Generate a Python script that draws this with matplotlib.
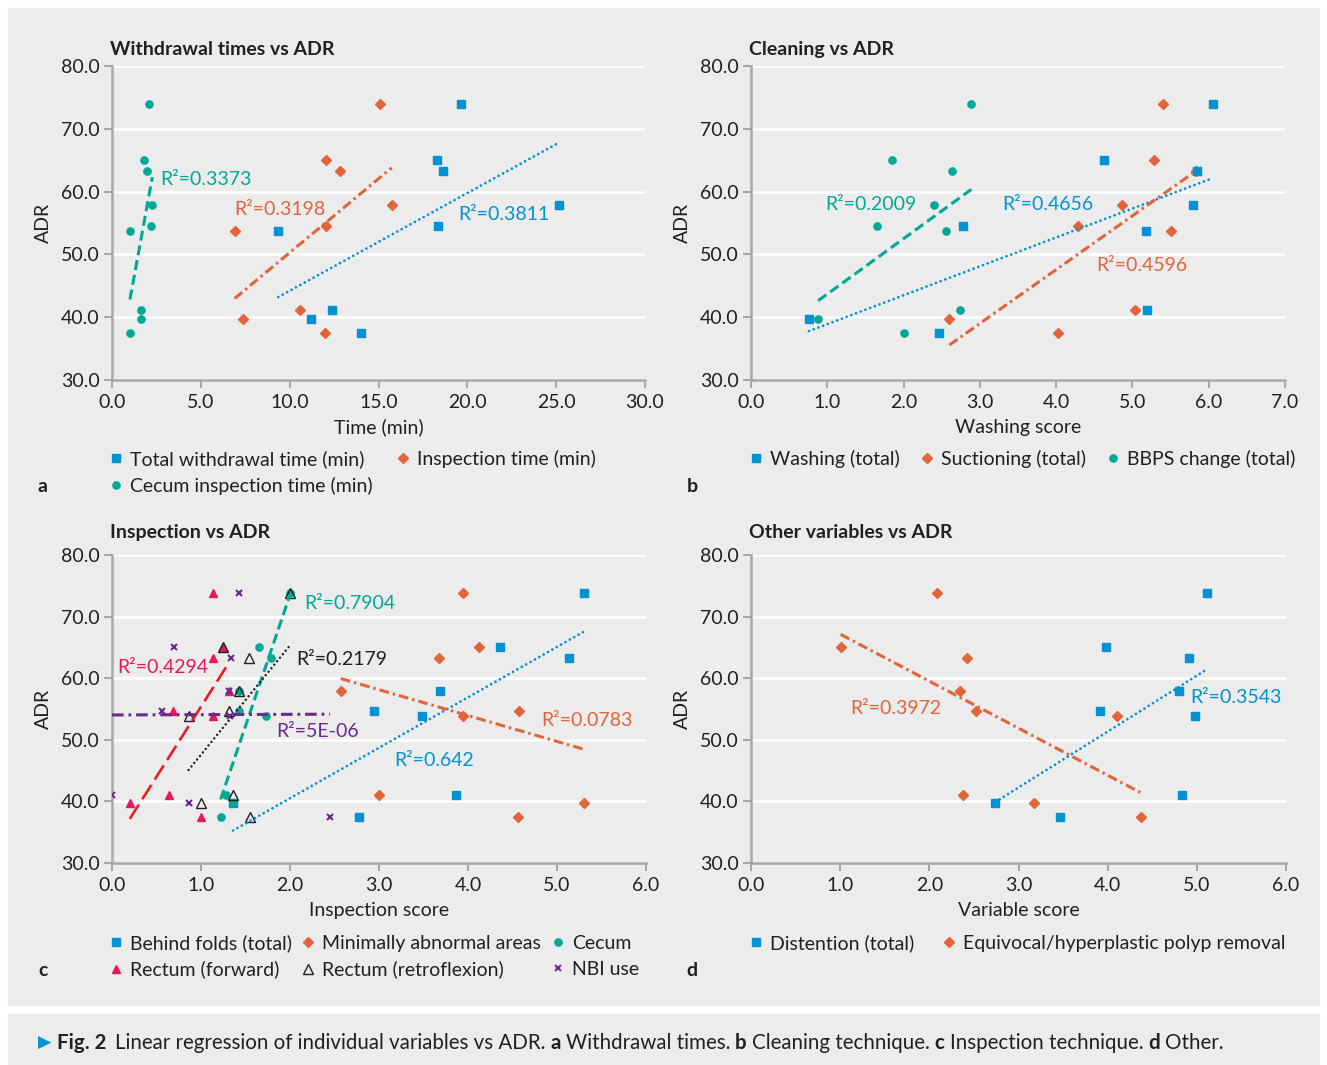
import numpy as np
import matplotlib.pyplot as plt
from matplotlib.patches import Rectangle

plt.rcParams['font.family'] = ['Lato', 'DejaVu Sans']

# ADR of the nine endoscopists (same y values in every panel)
adr = [73.9, 65.0, 63.3, 57.9, 54.6, 53.8, 41.1, 39.7, 37.5]

# a - withdrawal times
total_withdrawal = [19.66, 18.3, 18.65, 25.17, 18.37, 9.36, 12.4, 11.2, 14.03]
inspection_time = [15.1, 12.03, 12.83, 15.74, 12.03, 6.9, 10.58, 7.39, 11.99]
cecum_time = [2.1, 1.82, 1.95, 2.27, 2.19, 1.01, 1.65, 1.65, 1.01]

# b - cleaning
washing = [6.05, 4.63, 5.85, 5.8, 2.78, 5.18, 5.19, 0.76, 2.47]
suctioning = [5.4, 5.28, 5.83, 4.86, 4.29, 5.51, 5.04, 2.6, 4.03]
bbps_change = [2.89, 1.85, 2.63, 2.4, 1.65, 2.56, 2.74, 0.88, 2.01]

# c - inspection
behind_folds = [5.3, 4.36, 5.14, 3.69, 2.94, 3.48, 3.87, 1.36, 2.78]
min_abnormal = [3.94, 4.12, 3.67, 2.57, 4.57, 3.94, 3.0, 5.3, 4.56]
cecum_insp = [2.0, 1.65, 1.79, 1.43, 1.43, 1.73, 1.28, 1.36, 1.22]
rectum_fwd = [1.14, 1.25, 1.13, 1.31, 0.69, 1.13, 0.64, 0.2, 1.0]
rectum_retro = [2.0, 1.25, 1.54, 1.43, 1.31, 0.86, 1.36, 1.0, 1.55]
nbi_use = [1.43, 0.7, 1.34, 1.31, 0.56, 1.33, 0.0, 0.86, 2.45]

# d - other
distention = [5.11, 3.98, 4.91, 4.8, 3.91, 4.98, 4.83, 2.74, 3.47]
equivocal = [2.09, 1.005, 2.42, 2.34, 2.52, 4.1, 2.38, 3.17, 4.37]

BLUE = '#0092d5'
ORANGE = '#e2643a'
TEAL = '#00a896'
CRIMSON = '#e7195a'
RED = '#ec1c24'
PURPLE = '#6b2a8e'
BLACK = '#231f20'
BG = '#ebeceb'
SPINE = '#a6a8ab'

DOT = (0, (0.01, 1.8))
DASH = (0, (3.3, 1.6))
DASHDOT = (0, (3.2, 1.3, 0.8, 1.3))
LONGDASH = (0, (6.4, 2.4))
LONGDASHDOT = (0, (3.8, 1.6, 0.9, 1.6))

FS = 14

W, H = 1327, 1065
fig = plt.figure(figsize=(W / 100, H / 100), dpi=100)
fig.patches.append(Rectangle((8 / W, 1 - 1005 / H), 1311 / W, 997 / H,
                             transform=fig.transFigure, color=BG, zorder=-10))
fig.patches.append(Rectangle((8 / W, 0), 1311 / W, 51 / H,
                             transform=fig.transFigure, color=BG, zorder=-10))


def make_axes(l, t, r, b, xmax, xstep, title, xlabel, tpad):
    ax = fig.add_axes([l / W, 1 - b / H, (r - l) / W, (b - t) / H])
    ax.set_facecolor(BG)
    for s in ['top', 'right']:
        ax.spines[s].set_visible(False)
    for s in ['left', 'bottom']:
        ax.spines[s].set_color(SPINE)
        ax.spines[s].set_linewidth(1.8)
    ax.set_xlim(0, xmax)
    ax.set_ylim(30, 80)
    ax.set_xticks(np.arange(0, xmax + 0.01, xstep))
    ax.set_yticks(np.arange(30, 81, 10))
    ax.xaxis.set_major_formatter('{x:.1f}')
    ax.yaxis.set_major_formatter('{x:.1f}')
    ax.tick_params(direction='out', length=6, width=1.5, color=SPINE,
                   labelsize=FS, labelcolor=BLACK, pad=3)
    ax.tick_params(axis='x', pad=4)
    ax.yaxis.grid(True, color='white', lw=1.8)
    ax.set_axisbelow(True)
    ax.set_title(title, loc='left', fontsize=FS, fontweight='bold',
                 color=BLACK, pad=tpad, x=-0.004)
    ax.set_xlabel(xlabel, fontsize=FS, color=BLACK, labelpad=5.5)
    ax.set_ylabel('ADR', fontsize=FS, color=BLACK, labelpad=6)
    return ax


def points(ax, x, marker, color, ms, label, **kw):
    h, = ax.plot(x, adr, ls='none', marker=marker, color=color, ms=ms,
                 label=label, zorder=3, **kw)
    return h


def trend(ax, x, color, ls, lw=2.2):
    k, b = np.polyfit(x, adr, 1)
    xs = np.array([min(x), max(x)])
    cap = 'round' if ls == DOT else 'butt'
    ax.plot(xs, k * xs + b, color=color, ls=ls, lw=lw,
            dash_capstyle=cap, zorder=4)


def r2(ax, x, y, text, color):
    ax.text(x, y, text, color=color, fontsize=FS, va='center', ha='left', zorder=5)


def legend(handles, x, y, ncol, colsp):
    fig.legend(handles, [h.get_label() for h in handles], loc='upper left',
               bbox_to_anchor=(x / W, 1 - y / H), ncol=ncol, frameon=False,
               fontsize=FS, handlelength=1.0, handletextpad=0.22,
               columnspacing=colsp, labelspacing=0.45, borderpad=0,
               borderaxespad=0, labelcolor=BLACK)


# ---- a
ax = make_axes(112, 66, 645, 380, 30, 5, 'Withdrawal times vs ADR', 'Time (min)', 8)
h1 = points(ax, total_withdrawal, 's', BLUE, 5.5, 'Total withdrawal time (min)')
h2 = points(ax, inspection_time, 'D', ORANGE, 4.6, 'Inspection time (min)')
h3 = points(ax, cecum_time, 'o', TEAL, 5.2, 'Cecum inspection time (min)')
trend(ax, total_withdrawal, BLUE, DOT, 2.0)
trend(ax, inspection_time, ORANGE, DASHDOT)
trend(ax, cecum_time, TEAL, DASH)
r2(ax, 2.7, 62.0, 'R²=0.3373', TEAL)
r2(ax, 6.9, 57.2, 'R²=0.3198', ORANGE)
r2(ax, 19.47, 56.4, 'R²=0.3811', BLUE)
legend([h1, h3, h2], 106, 450, 2, 1.1)

# ---- b
ax = make_axes(751, 66, 1285, 380, 7, 1, 'Cleaning vs ADR', 'Washing score', 8)
h2 = points(ax, suctioning, 'D', ORANGE, 4.6, 'Suctioning (total)')
h1 = points(ax, washing, 's', BLUE, 5.5, 'Washing (total)')
h3 = points(ax, bbps_change, 'o', TEAL, 5.2, 'BBPS change (total)')
trend(ax, washing, BLUE, DOT, 2.0)
trend(ax, suctioning, ORANGE, DASHDOT)
trend(ax, bbps_change, TEAL, DASH)
r2(ax, 0.97, 57.9, 'R²=0.2009', TEAL)
r2(ax, 3.29, 57.9, 'R²=0.4656', BLUE)
r2(ax, 4.53, 48.3, 'R²=0.4596', ORANGE)
legend([h1, h2, h3], 746, 450, 3, 0.9)

# ---- c
ax = make_axes(112, 555, 646, 863, 6, 1, 'Inspection vs ADR', 'Inspection score', 12)
h1 = points(ax, behind_folds, 's', BLUE, 5.5, 'Behind folds (total)')
h2 = points(ax, min_abnormal, 'D', ORANGE, 4.6, 'Minimally abnormal areas')
h3 = points(ax, cecum_insp, 'o', TEAL, 5.2, 'Cecum')
h4 = points(ax, rectum_fwd, '^', CRIMSON, 6, 'Rectum (forward)')
h5 = points(ax, rectum_retro, '^', BLACK, 6.5, 'Rectum (retroflexion)',
            mfc='none', mew=1.0)
h6 = points(ax, nbi_use, 'x', PURPLE, 4.2, 'NBI use', mew=1.5)
trend(ax, behind_folds, BLUE, DOT, 2.0)
trend(ax, min_abnormal, ORANGE, DASHDOT)
trend(ax, cecum_insp, TEAL, DASH)
trend(ax, rectum_fwd, RED, LONGDASH, 1.9)
trend(ax, rectum_retro, BLACK, DOT, 1.8)
trend(ax, nbi_use, PURPLE, LONGDASHDOT)
r2(ax, 2.16, 72.2, 'R²=0.7904', TEAL)
r2(ax, 2.07, 63.1, 'R²=0.2179', BLACK)
r2(ax, 0.056, 61.7, 'R²=0.4294', CRIMSON)
r2(ax, 1.84, 51.4, 'R²=5E-06', PURPLE)
r2(ax, 3.17, 46.7, 'R²=0.642', BLUE)
r2(ax, 4.82, 53.1, 'R²=0.0783', ORANGE)
legend([h1, h4, h2, h5, h3, h6], 106, 934, 3, 0.35)

# ---- d
ax = make_axes(751, 555, 1286, 863, 6, 1, 'Other variables vs ADR', 'Variable score', 12)
h1 = points(ax, distention, 's', BLUE, 5.5, 'Distention (total)')
h2 = points(ax, equivocal, 'D', ORANGE, 4.6, 'Equivocal/hyperplastic polyp removal')
trend(ax, distention, BLUE, DOT, 2.0)
trend(ax, equivocal, ORANGE, DASHDOT)
r2(ax, 1.11, 55.0, 'R²=0.3972', ORANGE)
r2(ax, 4.93, 56.8, 'R²=0.3543', BLUE)
legend([h1, h2], 746, 934, 2, 1.3)

# panel letters
for letter, x, y in [('a', 43, 486), ('b', 692, 486), ('c', 43, 970), ('d', 692, 970)]:
    fig.text(x / W, 1 - y / H, letter, fontsize=FS, fontweight='bold',
             color=BLACK, ha='center', va='center')

# caption
cap = fig.add_axes([0, 0, 1, 1])
cap.axis('off')
cap.set_zorder(-5)
cap.text(45 / W, 1 - 1043 / H, '▶', fontsize=12.5, color=BLUE,
         va='center', ha='center', family=['DejaVu Sans'])
pieces = [('Fig. 2', 'bold', 0),
          ('Linear regression of individual variables vs ADR.', 'normal', 6),
          ('a', 'bold', 3.6), ('Withdrawal times.', 'normal', 3.6),
          ('b', 'bold', 3.6), ('Cleaning technique.', 'normal', 3.6),
          ('c', 'bold', 3.6), ('Inspection technique.', 'normal', 3.6),
          ('d', 'bold', 3.6), ('Other.', 'normal', 3.6)]
prev = None
for s, wt, gap in pieces:
    if prev is None:
        prev = cap.text(57 / W, 1 - 1043 / H, s, fontsize=14.8, color=BLACK,
                        fontweight=wt, va='center', ha='left')
    else:
        prev = cap.annotate(s, xy=(1, 0), xycoords=prev, xytext=(gap, 0),
                            textcoords='offset points', fontsize=14.8, color=BLACK,
                            fontweight=wt, va='bottom', ha='left')

fig.savefig('out.png', dpi=100, facecolor='white')
